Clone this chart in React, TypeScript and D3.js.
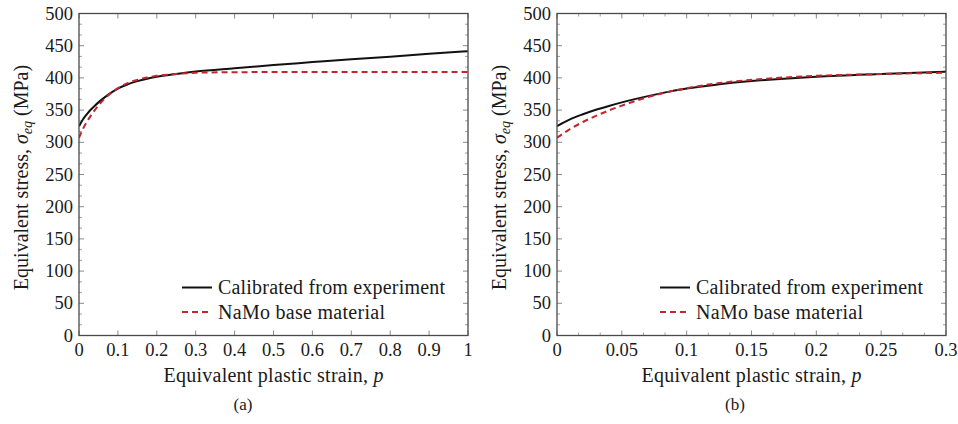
import React from "react";
import * as d3 from "d3";

// ---- data ----
const strain = [0, 0.005, 0.01, 0.02, 0.03, 0.04, 0.05, 0.06, 0.08, 0.1, 0.125, 0.15, 0.175, 0.2, 0.25, 0.3, 0.4, 0.5, 0.6, 0.7, 0.8, 0.9, 1.0];
const calibrated = [325, 330.5, 335.5, 343.5, 350.5, 356.5, 362, 367, 376, 383.5, 390, 395, 398.8, 401.7, 406, 409.8, 415, 420, 424.5, 429, 433, 437.5, 441.5];
const namo = [307, 314, 320.5, 331.5, 341, 349.5, 357, 364, 375.5, 384, 392, 397, 400.6, 403.2, 406.1, 408, 408.9, 409, 409, 409, 409, 409, 409];

const seriesNames = ["Calibrated from experiment", "NaMo base material"];
const yTicks = [0, 50, 100, 150, 200, 250, 300, 350, 400, 450, 500];
const xTicksA = [0, 0.1, 0.2, 0.3, 0.4, 0.5, 0.6, 0.7, 0.8, 0.9, 1];
const xTicksB = [0, 0.05, 0.1, 0.15, 0.2, 0.25, 0.3];
const panelTags = ["(a)", "(b)"];

const FONT = "'Liberation Serif', 'Times New Roman', serif";
const RED = "#c4262e";
const FRAME = "#4a4a4a";
const TICK = "#8a8a8a";

type PanelProps = {
  id: string;
  x0: number;
  x1: number;
  xMax: number;
  xTicks: number[];
  xMinor: number;
  tag: string;
  tagX: number;
  ylabelX: number;
};

const Y_TOP = 13.5;
const Y_BOT = 335.5;

function fmt(v: number) {
  return String(+v.toFixed(3));
}

type Pt = { s: number; a: number; b: number };

function Panel({ id, x0, x1, xMax, xTicks, xMinor, tag, tagX, ylabelX }: PanelProps) {
  const x = d3.scaleLinear().domain([0, xMax]).range([x0, x1]);
  const y = d3.scaleLinear().domain([0, 500]).range([Y_BOT, Y_TOP]);

  const pts: Pt[] = strain.map((s, i) => ({ s, a: calibrated[i], b: namo[i] })).filter((d) => d.s <= xMax + 1e-9);
  const lineA = d3.line<Pt>().x((d) => x(d.s)).y((d) => y(d.a)).curve(d3.curveMonotoneX);
  const lineB = d3.line<Pt>().x((d) => x(d.s)).y((d) => y(d.b)).curve(d3.curveMonotoneX);

  const yMinor: number[] = [];
  for (let i = 0; i < yTicks.length - 1; i++) {
    const step = (yTicks[i + 1] - yTicks[i]) / 3;
    yMinor.push(yTicks[i] + step, yTicks[i] + 2 * step);
  }
  const xMinorVals: number[] = [];
  if (xMinor > 0) {
    for (let i = 0; i < xTicks.length - 1; i++) {
      const step = (xTicks[i + 1] - xTicks[i]) / (xMinor + 1);
      for (let k = 1; k <= xMinor; k++) xMinorVals.push(xTicks[i] + k * step);
    }
  }

  const MAJ = 5;
  const MIN = 3;
  const legX = x0 + 103;
  const legY1 = 287.5;
  const legY2 = 312;

  return (
    <g>
      <defs>
        <clipPath id={id}>
          <rect x={x0} y={Y_TOP} width={x1 - x0} height={Y_BOT - Y_TOP} />
        </clipPath>
      </defs>
      {yTicks.map((t) => (
        <g key={"yt" + t} stroke={TICK} strokeWidth={1}>
          <line x1={x0} x2={x0 + MAJ} y1={y(t)} y2={y(t)} />
          <line x1={x1} x2={x1 - MAJ} y1={y(t)} y2={y(t)} />
        </g>
      ))}
      {yMinor.map((t, i) => (
        <g key={"ym" + i} stroke={TICK} strokeWidth={0.8}>
          <line x1={x0} x2={x0 + MIN} y1={y(t)} y2={y(t)} />
          <line x1={x1} x2={x1 - MIN} y1={y(t)} y2={y(t)} />
        </g>
      ))}
      {xTicks.map((t) => (
        <g key={"xt" + t} stroke={TICK} strokeWidth={1}>
          <line x1={x(t)} x2={x(t)} y1={Y_BOT} y2={Y_BOT - MAJ} />
          <line x1={x(t)} x2={x(t)} y1={Y_TOP} y2={Y_TOP + MAJ} />
        </g>
      ))}
      {xMinorVals.map((t, i) => (
        <g key={"xm" + i} stroke={TICK} strokeWidth={0.8}>
          <line x1={x(t)} x2={x(t)} y1={Y_BOT} y2={Y_BOT - MIN} />
          <line x1={x(t)} x2={x(t)} y1={Y_TOP} y2={Y_TOP + MIN} />
        </g>
      ))}
      <g clipPath={`url(#${id})`}>
        <path d={lineA(pts) || ""} fill="none" stroke="#111" strokeWidth={2} />
        <path d={lineB(pts) || ""} fill="none" stroke={RED} strokeWidth={2} strokeDasharray="6 4" />
      </g>
      <rect x={x0} y={Y_TOP} width={x1 - x0} height={Y_BOT - Y_TOP} fill="none" stroke={FRAME} strokeWidth={1.3} />
      <g fontFamily={FONT} fill="#1a1a1a">
        <g fontSize={18.5}>
          {yTicks.map((t) => (
            <text key={"yl" + t} x={x0 - 6} y={y(t) + 6} textAnchor="end">
              {t}
            </text>
          ))}
          {xTicks.map((t) => (
            <text key={"xl" + t} x={x(t)} y={355.5} textAnchor="middle">
              {fmt(t)}
            </text>
          ))}
        </g>
        <text x={(x0 + x1) / 2} y={382} textAnchor="middle" fontSize={20} textLength={220} lengthAdjust="spacing">
          Equivalent plastic strain, <tspan fontStyle="italic">p</tspan>
        </text>
        <text
          transform={`translate(${ylabelX},${(Y_TOP + Y_BOT) / 2 + 3}) rotate(-90)`}
          textAnchor="middle"
          fontSize={20}
        >
          Equivalent stress, <tspan fontStyle="italic">σ</tspan>
          <tspan fontStyle="italic" fontSize={14} dy={4}>eq</tspan>
          <tspan dy={-4}> (MPa)</tspan>
        </text>
        <text x={tagX} y={410} textAnchor="middle" fontSize={17}>
          {tag}
        </text>
        <line x1={legX} x2={legX + 30} y1={legY1} y2={legY1} stroke="#111" strokeWidth={2} />
        <line x1={legX} x2={legX + 30} y1={legY2} y2={legY2} stroke={RED} strokeWidth={2} strokeDasharray="6 4" />
        <g fontSize={20}>
          <text x={legX + 36} y={legY1 + 6.5} textLength={227} lengthAdjust="spacing">
            {seriesNames[0]}
          </text>
          <text x={legX + 36} y={legY2 + 6.5} textLength={167} lengthAdjust="spacing">
            {seriesNames[1]}
          </text>
        </g>
      </g>
    </g>
  );
}

export default function App() {
  return (
    <svg
      width={958}
      height={424}
      viewBox="0 0 958 424"
      style={{ position: "absolute", left: 0, top: 0, background: "#fff" }}
    >
      <rect x={0} y={0} width={958} height={424} fill="#fff" />
      <Panel id="clipA" x0={79} x1={468} xMax={1} xTicks={xTicksA} xMinor={0} tag={panelTags[0]} tagX={243} ylabelX={28} />
      <Panel id="clipB" x0={557} x1={946} xMax={0.3} xTicks={xTicksB} xMinor={2} tag={panelTags[1]} tagX={735} ylabelX={506} />
    </svg>
  );
}
